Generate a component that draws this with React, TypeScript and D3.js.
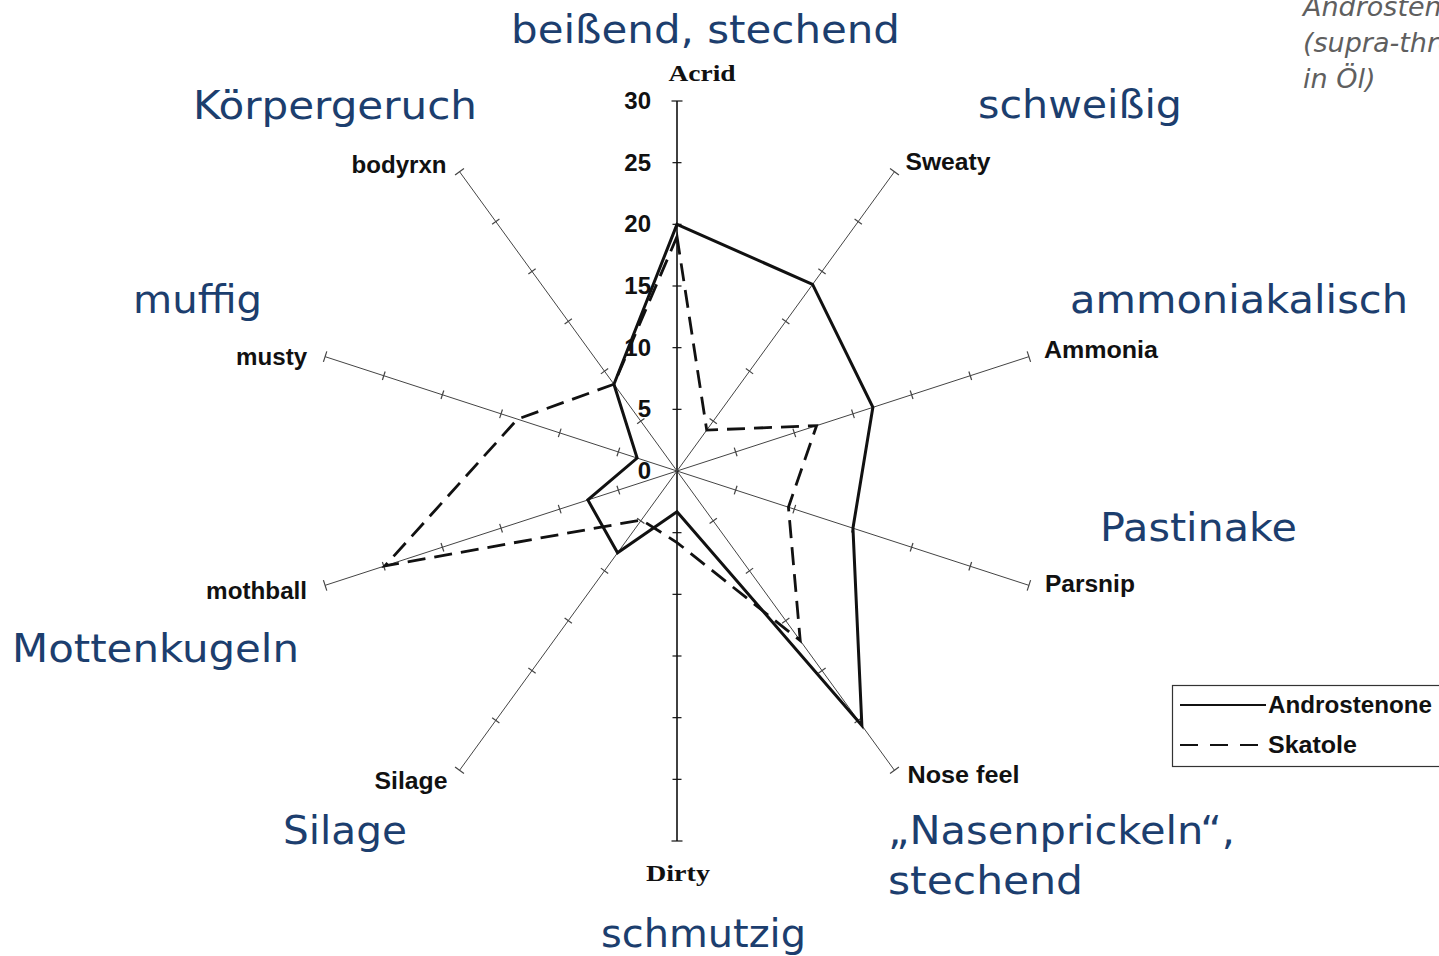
import React from "react";
import * as d3 from "d3";

const AXES = ["Acrid", "Sweaty", "Ammonia", "Parsnip", "Nose feel", "Dirty", "Silage", "mothball", "musty", "bodyrxn"];
const ANDROSTENONE = [20, 18.7, 16.7, 15, 25.5, 3.3, 8.2, 7.6, 3.4, 8.7];
const SKATOLE = [19, 4.1, 11.9, 9.5, 17, 5.8, 4.9, 24.9, 13.6, 8.7];
const TICKS = [0, 5, 10, 15, 20, 25, 30];
const SERIES_NAMES = ["Androstenone", "Skatole"];
const GERMAN = ["beißend, stechend", "schweißig", "ammoniakalisch", "Pastinake", "„Nasenprickeln“,", "stechend", "schmutzig", "Silage", "Mottenkugeln", "muffig", "Körpergeruch"];
const NOTE = ["Androstenon", "(supra-threshold", "in Öl)"];

// label styling (offsets from axis end to label centre, anchor, width)
const AXIS_LABEL_STYLE = [
  { dx: 25, dy: -28, anchor: "middle", w: 67, serif: true },
  { dx: 11, dy: -10, anchor: "start", w: 85 },
  { dx: 15, dy: -7, anchor: "start", w: 114 },
  { dx: 16, dy: -1, anchor: "start", w: 90 },
  { dx: 13, dy: 5, anchor: "start", w: 112 },
  { dx: 1, dy: 32, anchor: "middle", w: 64, serif: true },
  { dx: -12, dy: 11, anchor: "end", w: 73 },
  { dx: -18, dy: 6, anchor: "end", w: 101 },
  { dx: -18, dy: 0, anchor: "end", w: 71 },
  { dx: -13, dy: -7, anchor: "end", w: 95 },
];
const GERMAN_STYLE = [
  { x: 511, y: 43, w: 389 },
  { x: 978, y: 118, w: 204 },
  { x: 1070, y: 313, w: 338 },
  { x: 1100, y: 541, w: 197 },
  { x: 888, y: 844, w: 347 },
  { x: 888, y: 894, w: 195 },
  { x: 601, y: 947, w: 205 },
  { x: 283, y: 844, w: 124 },
  { x: 12, y: 662, w: 287 },
  { x: 133, y: 313, w: 129 },
  { x: 193, y: 119, w: 284 },
];

const W = 1439;
const H = 956;
const CX = 677;
const CY = 471;

export default function App() {
  const r = d3.scaleLinear().domain([0, 30]).range([0, 370]);
  const angle = d3
    .scaleLinear()
    .domain([0, AXES.length])
    .range([0, 2 * Math.PI]);
  const pt = (i: number, v: number) => {
    const a = angle(i);
    return [CX + r(v) * Math.sin(a), CY - r(v) * Math.cos(a)];
  };
  const radial = d3
    .lineRadial<number>()
    .angle((_, i) => angle(i))
    .radius((d) => r(d))
    .curve(d3.curveLinearClosed);

  const germanFont = "'DejaVu Sans', sans-serif";
  const germanColor = "#1C3E6E";

  return (
    <svg
      width={W}
      height={H}
      style={{ position: "absolute", left: 0, top: 0, display: "block", background: "#fff" }}
    >
      {/* axes */}
      {AXES.map((name, i) => {
        const [x2, y2] = pt(i, 30);
        const a = angle(i);
        const px = Math.cos(a);
        const py = Math.sin(a);
        const vertical = i === 0 || i === 5;
        return (
          <g key={name}>
            <line
              x1={CX}
              y1={CY}
              x2={x2}
              y2={y2}
              stroke={vertical ? "#111" : "#444"}
              strokeWidth={vertical ? 1.6 : 1}
            />
            {TICKS.filter((t) => t > 0).map((t) => {
              const [tx, ty] = pt(i, t);
              const hl = t === 30 ? 5.5 : 4.5;
              return (
                <line
                  key={t}
                  x1={tx - px * hl}
                  y1={ty - py * hl}
                  x2={tx + px * hl}
                  y2={ty + py * hl}
                  stroke={vertical ? "#111" : "#444"}
                  strokeWidth={1.2}
                />
              );
            })}
          </g>
        );
      })}

      {/* tick numbers on Acrid axis */}
      {TICKS.map((t) => {
        const [, ty] = pt(0, t);
        return (
          <text
            key={t}
            x={651}
            y={ty + 8}
            textAnchor="end"
            fontFamily="'Liberation Sans', Arial, sans-serif"
            fontWeight="bold"
            fontSize={24}
            fill="#111"
          >
            {t}
          </text>
        );
      })}

      {/* series */}
      <g transform={`translate(${CX},${CY})`}>
        <path d={radial(SKATOLE) || ""} fill="none" stroke="#111" strokeWidth={2.8} strokeDasharray="18 9" />
        <path d={radial(ANDROSTENONE) || ""} fill="none" stroke="#111" strokeWidth={3} strokeLinejoin="miter" />
      </g>

      {/* axis labels */}
      {AXES.map((name, i) => {
        const [x, y] = pt(i, 30);
        const s = AXIS_LABEL_STYLE[i];
        return (
          <text
            key={name}
            x={x + s.dx}
            y={y + s.dy + 8}
            textAnchor={s.anchor as any}
            fontFamily={s.serif ? "'Liberation Serif', 'Times New Roman', serif" : "'Liberation Sans', Arial, sans-serif"}
            fontWeight="bold"
            fontSize={s.serif ? 24 : 23}
            textLength={s.w}
            lengthAdjust="spacingAndGlyphs"
            fill="#111"
          >
            {name}
          </text>
        );
      })}

      {/* German translations */}
      {GERMAN.map((g, i) => {
        const s = GERMAN_STYLE[i];
        return (
          <text
            key={i}
            x={s.x}
            y={s.y}
            fontFamily={germanFont}
            fontSize={39}
            textLength={s.w}
            lengthAdjust="spacingAndGlyphs"
            fill={germanColor}
          >
            {g}
          </text>
        );
      })}

      {/* top right note (cut off at the edge as in the source) */}
      {NOTE.map((n, i) => (
        <text
          key={n}
          x={1303}
          y={16 + i * 36}
          fontFamily="'DejaVu Sans', sans-serif"
          fontStyle="italic"
          fontSize={27}
          fill="#5f5f5f"
        >
          {n}
        </text>
      ))}

      {/* legend */}
      <g>
        <rect x={1172.5} y={685.5} width={300} height={81} fill="#fff" stroke="#333" strokeWidth={1.2} />
        <line x1={1180} y1={705} x2={1266} y2={705} stroke="#111" strokeWidth={2} />
        <line x1={1180} y1={745} x2={1258} y2={745} stroke="#111" strokeWidth={2.2} strokeDasharray="18 12" />
        {SERIES_NAMES.map((n, i) => (
          <text
            key={n}
            x={1268}
            y={713 + i * 40}
            fontFamily="'Liberation Sans', Arial, sans-serif"
            fontWeight="bold"
            fontSize={23}
            textLength={i === 0 ? 164 : 89}
            lengthAdjust="spacingAndGlyphs"
            fill="#111"
          >
            {n}
          </text>
        ))}
      </g>
    </svg>
  );
}
